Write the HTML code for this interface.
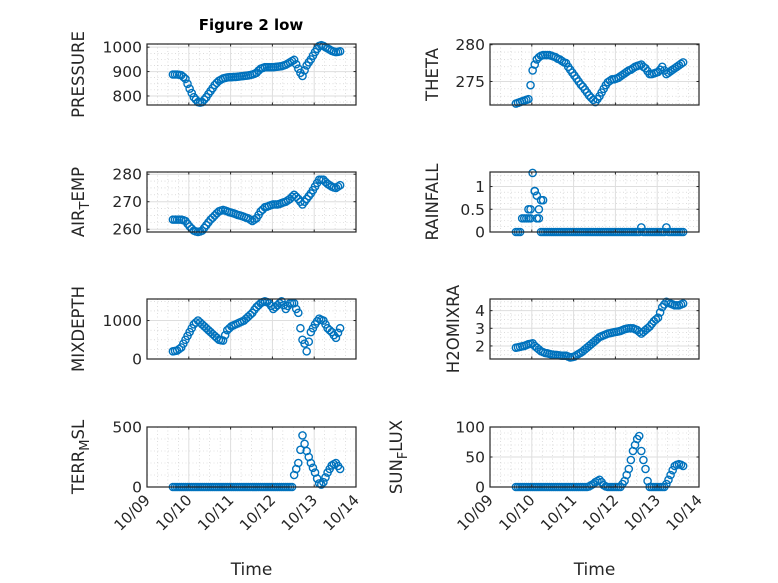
<!DOCTYPE html>
<html><head><meta charset="utf-8"><style>
body{margin:0;background:#fff;}
svg{display:block;font-family:"DejaVu Sans","Liberation Sans",sans-serif;}
</style></head><body>
<svg id="fig" width="778" height="583" viewBox="0 0 778 583" xmlns="http://www.w3.org/2000/svg">
<rect width="778" height="583" fill="#fff"/>
<text x="251" y="30" text-anchor="middle" font-size="15" font-weight="bold" fill="#000">Figure 2 low</text>
</svg>
<script>
const xTickLabels = ["10/09","10/10","10/11","10/12","10/13","10/14"];
const tStart = 0.62, tStep = 0.05;
const pressure = [888,888,888,887,885,878,870,850,830,812,795,785,775,773,775,785,795,808,820,832,845,854,862,867,872,874,876,877,877,878,878,879,880,881,882,883,884,886,888,891,895,904,912,915,918,918,918,918,918,919,920,921,922,925,928,933,938,943,948,930,912,895,882,905,925,938,950,965,980,993,1005,1008,1005,1000,995,990,985,982,980,981,983];
const airTemp = [263.5,263.5,263.5,263.5,263.5,263.3,263,262,261,260.2,259.5,259.2,259,259.2,259.5,260.5,261.5,262.5,263.5,264.2,265,265.8,266.5,266.8,267,266.8,266.5,266.2,266,265.8,265.5,265.2,265,264.8,264.5,264.2,264,263.5,263,263.5,264,265.2,266.5,267.2,268,268.2,268.5,268.8,269,269,269,269.2,269.5,269.8,270,270.5,271,271.8,272.5,271.8,271,270,269,270,271,272,273,274.2,275.5,276.8,278,278,278,277.2,276.5,276,275.5,275.2,275,275.5,276];
const mixDepth = [200,210,220,260,300,400,500,600,700,800,900,950,1000,950,900,850,800,750,700,650,600,550,500,490,480,620,750,800,850,875,900,925,950,975,1000,1050,1100,1150,1200,1280,1350,1400,1450,1480,1500,1480,1450,1380,1300,1350,1400,1450,1500,1400,1300,1380,1450,1450,1450,1300,1200,800,500,400,200,450,700,800,900,980,1050,1020,1000,900,800,750,700,620,550,680,800];
const terrMsl = [0,0,0,0,0,0,0,0,0,0,0,0,0,0,0,0,0,0,0,0,0,0,0,0,0,0,0,0,0,0,0,0,0,0,0,0,0,0,0,0,0,0,0,0,0,0,0,0,0,0,0,0,0,0,0,0,0,0,100,150,200,310,430,360,300,250,200,160,120,70,30,20,40,80,120,150,180,190,200,175,150];
const theta = [272,272.1,272.2,272.3,272.4,272.5,272.6,274.5,276.5,277.3,278,278.3,278.5,278.6,278.6,278.6,278.6,278.5,278.4,278.3,278.1,278,277.8,277.6,277.5,277,276.6,276.2,275.8,275.4,275,274.6,274.3,273.9,273.5,273.1,272.8,272.5,272.2,272.6,273,273.5,274,274.5,274.9,275.1,275.3,275.3,275.4,275.5,275.7,275.9,276.1,276.3,276.5,276.6,276.8,277,277.1,277.2,277.3,277,276.8,276.4,276,276,276.1,276.2,276.3,276.6,277,276.5,276,276.2,276.4,276.6,276.8,277,277.2,277.4,277.6];
const rainfall = [0,0,0,0.3,0.3,0.3,0.3,0.5,1.3,0.9,0.8,0.3,0,0,0,0,0,0,0,0,0,0,0,0,0,0,0,0,0,0,0,0,0,0,0,0,0,0,0,0,0,0,0,0,0,0,0,0,0,0,0,0,0,0,0,0,0,0,0,0,0.1,0,0,0,0,0,0,0,0,0,0,0,0.1,0,0,0,0,0,0,0,0];
const rainExtraT = [0.92,0.97,1.07,1.12,1.17,1.22,1.27];
const rainExtraV = [0.5,0.3,0.9,0.3,0.5,0.7,0.7];
const h2oMixRatio = [1.9,1.92,1.95,1.98,2.0,2.05,2.1,2.12,2.15,2.0,1.9,1.8,1.7,1.65,1.6,1.58,1.55,1.52,1.5,1.49,1.48,1.46,1.45,1.45,1.45,1.4,1.35,1.37,1.4,1.48,1.55,1.62,1.7,1.8,1.9,2.0,2.1,2.2,2.3,2.4,2.5,2.55,2.6,2.65,2.7,2.72,2.75,2.78,2.8,2.82,2.85,2.9,2.95,2.98,3.0,3.0,3.0,2.95,2.9,2.8,2.7,2.8,2.9,3.0,3.1,3.25,3.4,3.5,3.6,3.9,4.2,4.35,4.5,4.45,4.4,4.35,4.3,4.3,4.3,4.35,4.4];
const sunFlux = [0,0,0,0,0,0,0,0,0,0,0,0,0,0,0,0,0,0,0,0,0,0,0,0,0,0,0,0,0,0,0,0,0,0,0,1,3,5,8,10,12,8,3,1,0,0,0,0,0,0,0,5,10,20,30,45,60,70,80,85,60,45,30,10,0,0,0,0,0,0,0,0,5,12,20,28,35,37,38,37,35];
const pressureTicks = [800,900,1000];
const airTicks = [260,270,280];
const mixTicks = [0,1000];
const terrTicks = [0,500];
const thetaTicks = [275,280];
const rainTicks = [0,0.5,1];
const h2oTicks = [2,3,4];
const sunTicks = [0,50,100];

const svg = document.getElementById('fig');
const NS = 'http://www.w3.org/2000/svg';
function mk(tag, attrs, parent){const e=document.createElementNS(NS,tag);for(const k in attrs)e.setAttribute(k,attrs[k]);(parent||svg).appendChild(e);return e;}

const panels = [
 {name:'pressure',x0:147,x1:356,y0:44,y1:105,min:763,max:1013,vals:pressure,ticks:pressureTicks,minor:25,label:['PRESSURE'],lx:84},
 {name:'air-temp',x0:147,x1:356,y0:172,y1:232,min:259,max:280.8,vals:airTemp,ticks:airTicks,minor:2.5,label:['AIR','T','EMP'],lx:84},
 {name:'mix-depth',x0:147,x1:356,y0:299,y1:359,min:0,max:1560,vals:mixDepth,ticks:mixTicks,minor:250,label:['MIXDEPTH'],lx:84},
 {name:'terr-msl',x0:147,x1:356,y0:427,y1:487,min:0,max:500,vals:terrMsl,ticks:terrTicks,minor:100,label:['TERR','M','SL'],lx:84,xlab:true},
 {name:'theta',x0:490,x1:699,y0:44,y1:105,min:271.8,max:280.1,vals:theta,ticks:thetaTicks,minor:1,label:['THETA'],lx:438},
 {name:'rainfall',x0:490,x1:699,y0:172,y1:232,min:0,max:1.32,vals:rainfall,ticks:rainTicks,minor:0.125,label:['RAINFALL'],lx:438,extraT:rainExtraT,extraV:rainExtraV},
 {name:'h2o-mix-ratio',x0:490,x1:699,y0:299,y1:359,min:1.26,max:4.66,vals:h2oMixRatio,ticks:h2oTicks,minor:0.25,label:['H2OMIXRA'],lx:459},
 {name:'sun-flux',x0:490,x1:699,y0:427,y1:487,min:0,max:100,vals:sunFlux,ticks:sunTicks,minor:10,label:['SUN','F','LUX'],lx:402,xlab:true}
];

panels.forEach(p=>{
  const g = mk('g',{});
  
  
  const xs = t => p.x0 + (p.x1-p.x0)*t/5;
  const ys = v => p.y1 - (p.y1-p.y0)*(v-p.min)/(p.max-p.min);
  for(let t=0.25;t<5;t+=0.25){ if(Math.abs(t-Math.round(t))<1e-6) continue;
    mk('line',{x1:xs(t),x2:xs(t),y1:p.y0,y2:p.y1,stroke:'#c8c8c8','stroke-width':0.6,'stroke-dasharray':'1 2.5'},g);}
  const start = Math.ceil(p.min/p.minor)*p.minor;
  for(let v=start; v<p.max; v+=p.minor){
    if(p.ticks.some(tk=>Math.abs(tk-v)<1e-6)) continue;
    mk('line',{x1:p.x0,x2:p.x1,y1:ys(v),y2:ys(v),stroke:'#c8c8c8','stroke-width':0.6,'stroke-dasharray':'1 2.5'},g);}
  for(let d=1; d<5; d++) mk('line',{x1:xs(d),x2:xs(d),y1:p.y0,y2:p.y1,stroke:'#dedede','stroke-width':1},g);
  p.ticks.forEach(v=>{ if(v>p.min && v<p.max) mk('line',{x1:p.x0,x2:p.x1,y1:ys(v),y2:ys(v),stroke:'#dedede','stroke-width':1},g);});
  const dg = mk('g',{fill:'none',stroke:'#0072BD','stroke-width':1.4},g);
  
  
  p.vals.forEach((v,i)=>{
    const c = mk('circle',{cx:xs(tStart+i*tStep),cy:ys(v),r:3.6},dg);
    
    
  });
  if(p.extraT) p.extraT.forEach((t,i)=>{
    const c = mk('circle',{cx:xs(t),cy:ys(p.extraV[i]),r:3.6},dg);
    
    
  });
  mk('rect',{x:p.x0,y:p.y0,width:p.x1-p.x0,height:p.y1-p.y0,fill:'none',stroke:'#262626','stroke-width':1.2},g);
  for(let d=0; d<=5; d++){
    mk('line',{x1:xs(d),x2:xs(d),y1:p.y1,y2:p.y1-2.5,stroke:'#262626'},g);
    mk('line',{x1:xs(d),x2:xs(d),y1:p.y0,y2:p.y0+2.5,stroke:'#262626'},g);
  }
  p.ticks.forEach(v=>{
    mk('line',{x1:p.x0,x2:p.x0+2.5,y1:ys(v),y2:ys(v),stroke:'#262626'},g);
    mk('line',{x1:p.x1,x2:p.x1-2.5,y1:ys(v),y2:ys(v),stroke:'#262626'},g);
    const tx = mk('text',{x:p.x0-5,y:ys(v)+5.5,'text-anchor':'end','font-size':15.5,fill:'#262626'},g);
    tx.textContent = String(v);
    
    
  });
  if(p.xlab){
    xTickLabels.forEach((lab,d)=>{
      const tx = mk('text',{x:xs(d)+4,y:p.y1+14,'text-anchor':'end','font-size':15,fill:'#262626',transform:`rotate(-45 ${xs(d)+4} ${p.y1+14})`},g);
      tx.textContent = lab;
      
      
    });
    const xl = mk('text',{x:(p.x0+p.x1)/2,y:575,'text-anchor':'middle','font-size':17,fill:'#262626'},g);
    xl.textContent = 'Time';
    
    
  }
  const cy = (p.y0+p.y1)/2;
  const yl = mk('text',{x:p.lx,y:cy,'text-anchor':'middle','font-size':16.5,fill:'#262626',transform:`rotate(-90 ${p.lx} ${cy})`},g);
  
  
  if(p.label.length===1){ yl.textContent = p.label[0]; }
  else {
    const a = mk('tspan',{},yl); a.textContent = p.label[0];
    const b = mk('tspan',{dy:5,'font-size':13},yl); b.textContent = p.label[1];
    const c = mk('tspan',{dy:-5},yl); c.textContent = p.label[2];
  }
});
</script>
</body></html>
